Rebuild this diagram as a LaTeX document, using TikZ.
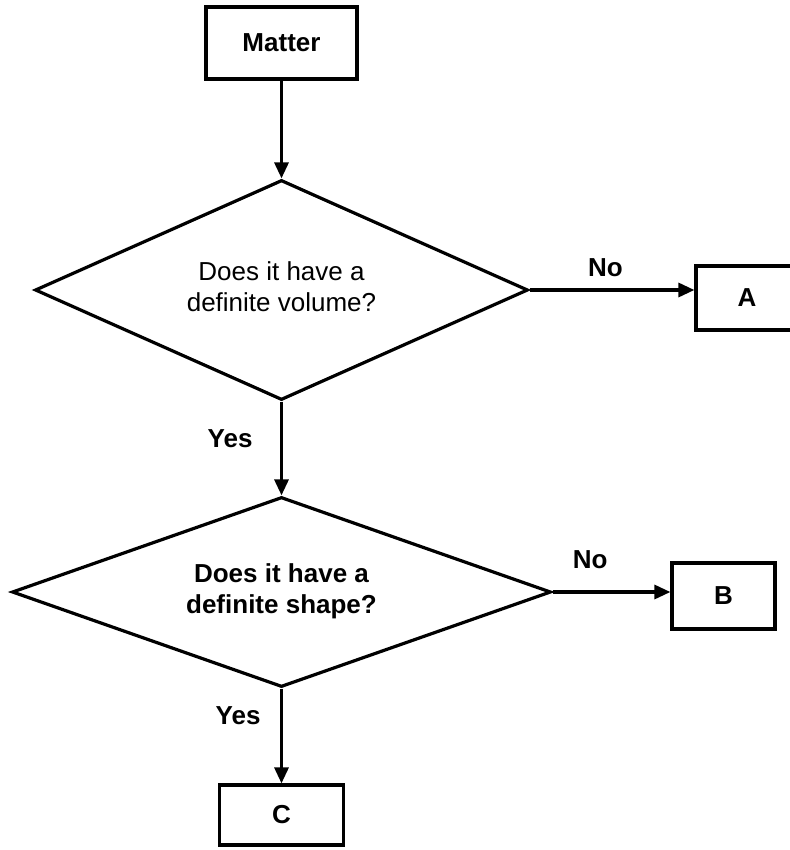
\documentclass[tikz,border=0pt]{standalone}
\usepackage{fontspec}
\setmainfont{Liberation Sans}
\usetikzlibrary{arrows.meta,shapes.geometric}
\begin{document}
\begin{tikzpicture}[x=1pt,y=-1pt,
  every node/.style={font=\fontsize{26}{31}\selectfont},
  box/.style={draw,line width=3.2pt,inner sep=0pt,font=\fontsize{26}{31}\selectfont\bfseries},
  dia/.style={draw,diamond,line width=3.2pt,inner sep=0pt,align=center},
  lbl/.style={font=\fontsize{26}{31}\selectfont\bfseries},
  arr/.style={line width=3.2pt,-{Triangle[length=16pt,width=14pt]}}]
\useasboundingbox (0,0) rectangle (789,850);
\node[box,minimum width=151pt,minimum height=72pt] (matter) at (281.5,43) {Matter};
\node[dia,shape aspect=2.24,minimum width=493pt,minimum height=220pt] (d1) at (281.5,290) {\raisebox{8pt}{\begin{tabular}{c}Does it have a\\definite volume?\end{tabular}}};
\node[box,minimum width=102pt,minimum height=64pt] (a) at (747,298) {A};
\node[dia,shape aspect=2.84,minimum width=539pt,minimum height=190pt] (d2) at (281.5,592) {\bfseries\begin{tabular}{c}Does it have a\\definite shape?\end{tabular}};
\node[box,minimum width=103pt,minimum height=66pt] (b) at (723.5,596) {B};
\node[box,minimum width=124pt,minimum height=60pt] (c) at (281.5,815) {C};
\draw[arr] (matter.south) -- (d1.north);
\draw[arr] (d1.east) -- (d1.east -| a.west) node[lbl,pos=0.46,above=8pt] (no1) {No};
\draw[arr] (d1.south) -- (d2.north) node[lbl,pos=0.39,left=24pt] (yes1) {Yes};
\draw[arr] (d2.east) -- (d2.east -| b.west) node[lbl,pos=0.32,above=18pt] (no2) {No};
\draw[arr] (d2.south) -- (c.north) node[lbl,pos=0.29,left=16pt] (yes2) {Yes};
\end{tikzpicture}
\end{document}
